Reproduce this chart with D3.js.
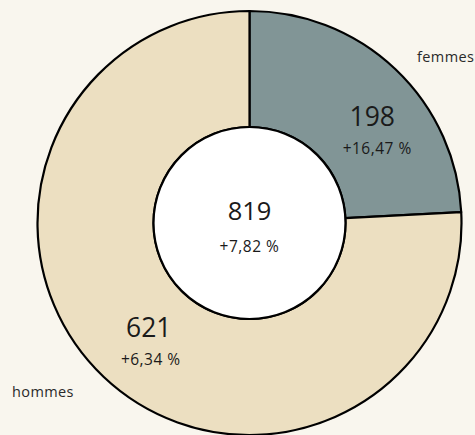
<!DOCTYPE html>
<html>
<head>
<meta charset="utf-8">
<script src="https://cdn.jsdelivr.net/npm/d3@7"></script>
<style>
  html, body { margin: 0; padding: 0; background: #f9f6ee; }
  svg { display: block; font-family: "Open Sans", Lato, sans-serif; }
</style>
</head>
<body>
<div id="chart"></div>
<script>
// Data
var categories = ["femmes", "hommes"];
var counts = [198, 621];
var changes = ["+16,47 %", "+6,34 %"];
var total = 819;
var totalChange = "+7,82 %";

var colours = ["#819596", "#ecdfc1"];

var width = 475, height = 435;
var cx = 249.5, cy = 223;
var outerR = 212, innerR = 96;

var svg = d3.select("#chart")
    .append("svg")
    .attr("width", width)
    .attr("height", height);

var g = svg.append("g")
    .attr("transform", "translate(" + cx + "," + cy + ")");

var data = categories.map(function(c, i) {
    return { name: c, value: counts[i], change: changes[i] };
});

var pie = d3.pie()
    .sort(null)
    .value(function(d) { return d.value; });

var arc = d3.arc()
    .innerRadius(innerR)
    .outerRadius(outerR);

var arcs = pie(data);

// Slices
g.selectAll(".slice")
    .data(arcs)
    .enter()
    .append("path")
    .attr("class", "slice")
    .attr("d", arc)
    .attr("fill", function(d, i) { return colours[i]; })
    .attr("stroke", "#000")
    .attr("stroke-width", 2.2)
    .attr("stroke-linejoin", "round");

// Inner white disc
g.append("circle")
    .attr("r", innerR)
    .attr("fill", "#fff")
    .attr("stroke", "#000")
    .attr("stroke-width", 2.2);

// Total in the middle
g.append("text")
    .attr("text-anchor", "middle")
    .attr("y", -3)
    .attr("font-size", 25.5)
    .attr("fill", "#1a1a1a")
    .text(total);
g.append("text")
    .attr("text-anchor", "middle")
    .attr("y", 29)
    .attr("font-size", 15.5)
    .attr("letter-spacing", 0.5)
    .attr("fill", "#1a1a1a")
    .text(totalChange);

// Slice value labels (centroid plus a nudge)
var labelArc = d3.arc().innerRadius(155).outerRadius(155);
var nudge = [[16, 21], [6, 8]];
var pctShift = [5, 2];
var outerPos = [[417, 62], [12, 397]];

arcs.forEach(function(d, i) {
    var c = labelArc.centroid(d);
    var x = c[0] + nudge[i][0], y = c[1] + nudge[i][1];
    g.append("text")
        .attr("text-anchor", "middle")
        .attr("x", x)
        .attr("y", y - 6)
        .attr("font-size", 26.5)
        .attr("fill", "#1a1a1a")
        .text(d.data.value);
    g.append("text")
        .attr("text-anchor", "middle")
        .attr("x", x + pctShift[i])
        .attr("y", y + 22)
        .attr("font-size", 15.5)
        .attr("letter-spacing", 0.5)
        .attr("fill", "#1a1a1a")
        .text(d.data.change);

    // Category names outside the ring
    svg.append("text")
        .attr("x", outerPos[i][0])
        .attr("y", outerPos[i][1])
        .attr("font-size", 14.5)
        .attr("letter-spacing", 0.4)
        .attr("fill", "#2a2a2a")
        .text(d.data.name);
});
</script>
</body>
</html>
